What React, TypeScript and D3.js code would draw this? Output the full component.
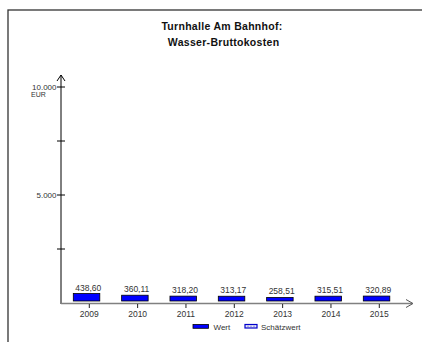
import React from "react";
import * as d3 from "d3";

const years = ["2009", "2010", "2011", "2012", "2013", "2014", "2015"];
const values = [438.6, 360.11, 318.2, 313.17, 258.51, 315.51, 320.89];
const yTicks = [0, 2500, 5000, 7500, 10000];
const yLabels: Record<number, string> = { 5000: "5.000", 10000: "10.000" };
const titleLines = ["Turnhalle Am Bahnhof:", " Wasser-Bruttokosten"];
const legendItems = ["Wert", "Schätzwert"];

const fmt = (v: number) => v.toFixed(2).replace(".", ",");

export default function App() {
  const W = 422, H = 342;
  const x = d3.scalePoint<string>().domain(years).range([89.3, 379.3]);
  const y = d3.scaleLinear().domain([0, 10000]).range([303, 87]);
  const axisX = 61;
  const font = "'Liberation Sans', Arial, sans-serif";
  return (
    <svg width={W} height={H} style={{ position: "absolute", left: 0, top: 0, background: "#fff" }} fontFamily={font}>
      <rect x={8} y={10} width={430} height={350} fill="none" stroke="#333" strokeWidth={1.3} />
      {titleLines.map((t, i) => (
        <text key={i} x={222} y={30 + i * 15.5} textAnchor="middle" fontSize={10.5} fontWeight="bold" fill="#111" style={{ whiteSpace: "pre" }} letterSpacing={0.3}>
          {t}
        </text>
      ))}
      {/* y axis */}
      <line x1={axisX} x2={axisX} y1={y(0) + 1} y2={75} stroke="#000" strokeWidth={1} />
      <path d={`M${axisX - 4},${81} L${axisX},${75} L${axisX + 4},${81}`} fill="none" stroke="#000" strokeWidth={1} />
      {yTicks.filter((t) => t > 0).map((t) => (
        <g key={t}>
          <line x1={axisX - 4} x2={axisX + 4} y1={y(t)} y2={y(t)} stroke="#000" strokeWidth={1} />
          {yLabels[t] && (
            <text x={56.5} y={y(t) + 2.8} textAnchor="end" fontSize={8} fill="#333">{yLabels[t]}</text>
          )}
        </g>
      ))}
      <text x={38.5} y={y(10000) + 9.5} textAnchor="middle" fontSize={7} fill="#333">EUR</text>
      {/* x axis */}
      <line x1={axisX} x2={412} y1={y(0) + 0.5} y2={y(0) + 0.5} stroke="#808080" strokeWidth={1.6} />
      <path d={`M${406},${y(0) - 3.5} L${413},${y(0) + 0.5} L${406},${y(0) + 4.5}`} fill="none" stroke="#555" strokeWidth={1} />
      {years.map((yr) => (
        <g key={yr}>
          <line x1={x(yr)!} x2={x(yr)!} y1={y(0) + 1} y2={y(0) + 5} stroke="#222" strokeWidth={1} />
          <text x={x(yr)!} y={317} textAnchor="middle" fontSize={8.5} fill="#333">{yr}</text>
        </g>
      ))}
      {/* bars */}
      {values.map((v, i) => {
        const cx = x(years[i])!;
        return (
          <g key={i}>
            <rect x={cx - 16} y={y(v)} width={26.5} height={Math.max(0, y(0) - 2 - y(v))} fill="#0000ff" stroke="#000" strokeWidth={0.8} />
            <text x={cx - 1} y={y(v) - 3} textAnchor="middle" fontSize={8.5} fill="#333">{fmt(v)}</text>
          </g>
        );
      })}
      {/* legend */}
      <rect x={193} y={324.5} width={15.5} height={3.8} fill="#0000ff" stroke="#000" strokeWidth={0.8} />
      <text x={213.5} y={330} fontSize={8} fill="#333">{legendItems[0]}</text>
      <rect x={245} y={324.5} width={12} height={3.5} fill="#e8e8f8" stroke="#0000cc" strokeWidth={1.2} />
      <line x1={247} x2={255} y1={326.2} y2={326.2} stroke="#9999dd" strokeWidth={1} strokeDasharray="2,1" />
      <text x={261} y={330} fontSize={8} fill="#333">{legendItems[1]}</text>
    </svg>
  );
}
